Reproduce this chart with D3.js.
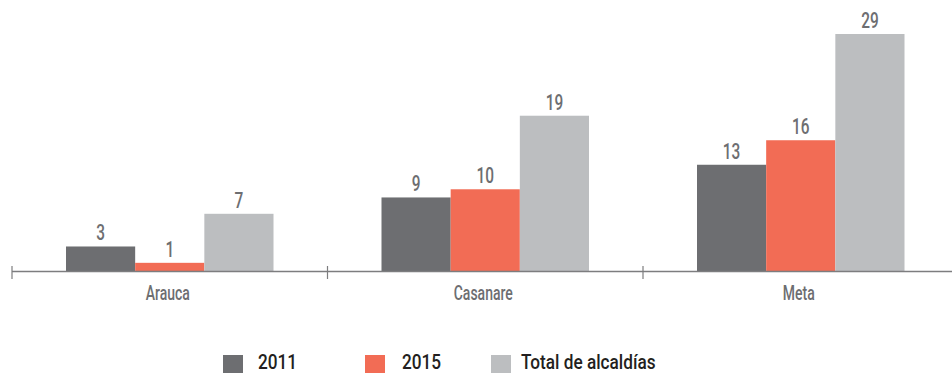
<!DOCTYPE html>
<html>
<head>
<meta charset="utf-8">
<script src="https://cdn.jsdelivr.net/npm/d3@7/dist/d3.min.js"></script>
<style>
  html, body { margin: 0; padding: 0; background: #fff; }
  svg { display: block; }
  text { font-family: "Roboto", "DejaVu Sans", sans-serif; font-weight: 500; }
</style>
</head>
<body>
<svg id="chart" width="952" height="375"></svg>
<script>
// Departamentos y alcaldías
const categories = ["Arauca", "Casanare", "Meta"];
const seriesNames = ["2011", "2015", "Total de alcaldías"];
const values2011 = [3, 9, 13];
const values2015 = [1, 10, 16];
const valuesTotal = [7, 19, 29];
const seriesColors = ["#6d6e71", "#f26c55", "#bcbec0"];

const seriesValues = [values2011, values2015, valuesTotal];

const svg = d3.select("#chart");
const baseY = 271;

// horizontal squeeze that gives the condensed lettering
function placeText(sel, x, y, k = 0.7) {
  return sel.attr("transform", `translate(${x},${y}) scale(${k},1)`);
}

const x0 = d3.scaleBand()
  .domain(categories)
  .range([12, 958.5])
  .paddingInner(0)
  .paddingOuter(0);

const groupPad = 54;
const x1 = d3.scaleBand()
  .domain(seriesNames)
  .range([groupPad, x0.bandwidth() - groupPad])
  .padding(0);

const y = d3.scaleLinear()
  .domain([0, 29])
  .range([baseY, 34]);

// Bars and value labels
const groups = svg.append("g")
  .selectAll("g")
  .data(categories)
  .join("g")
  .attr("transform", d => `translate(${x0(d)},0)`);

groups.each(function(cat, ci) {
  const g = d3.select(this);
  seriesNames.forEach((s, si) => {
    const v = seriesValues[si][ci];
    g.append("rect")
      .attr("x", x1(s))
      .attr("y", y(v))
      .attr("width", x1.bandwidth())
      .attr("height", y(0) - y(v))
      .attr("fill", seriesColors[si]);
    g.append("text")
      .call(placeText, x1(s) + x1.bandwidth() / 2, y(v) - 6)
      .attr("text-anchor", "middle")
      .attr("font-size", 22)
      .attr("fill", "#6d6e71")
      .text(v);
  });
});

// Category axis
const axis = svg.append("g");
axis.append("line")
  .attr("x1", x0.range()[0])
  .attr("x2", 952)
  .attr("y1", baseY + 0.5)
  .attr("y2", baseY + 0.5)
  .attr("stroke", "#7d7d7f")
  .attr("stroke-width", 1.5);

axis.selectAll("line.tick")
  .data(categories)
  .join("line")
  .attr("class", "tick")
  .attr("x1", d => x0(d))
  .attr("x2", d => x0(d))
  .attr("y1", baseY - 5)
  .attr("y2", baseY + 8)
  .attr("stroke", "#7d7d7f")
  .attr("stroke-width", 1.2);

axis.selectAll("text")
  .data(categories)
  .join("text")
  .each(function(d) {
    placeText(d3.select(this), x0(d) + x0.bandwidth() / 2 - 2, 300);
  })
  .attr("text-anchor", "middle")
  .attr("font-size", 20)
  .attr("fill", "#6d6e71")
  .text(d => d);

// Legend
const legendX = [223, 365, 491];
const legendTextX = [258, 402, 521];
const legend = svg.append("g");
seriesNames.forEach((s, i) => {
  legend.append("rect")
    .attr("x", legendX[i])
    .attr("y", 355)
    .attr("width", 20)
    .attr("height", 18)
    .attr("fill", seriesColors[i]);
  legend.append("text")
    .call(placeText, legendTextX[i], 369, 0.82)
    .attr("font-size", 21)
    .attr("fill", "#231f20")
    .text(s);
});
</script>
</body>
</html>
